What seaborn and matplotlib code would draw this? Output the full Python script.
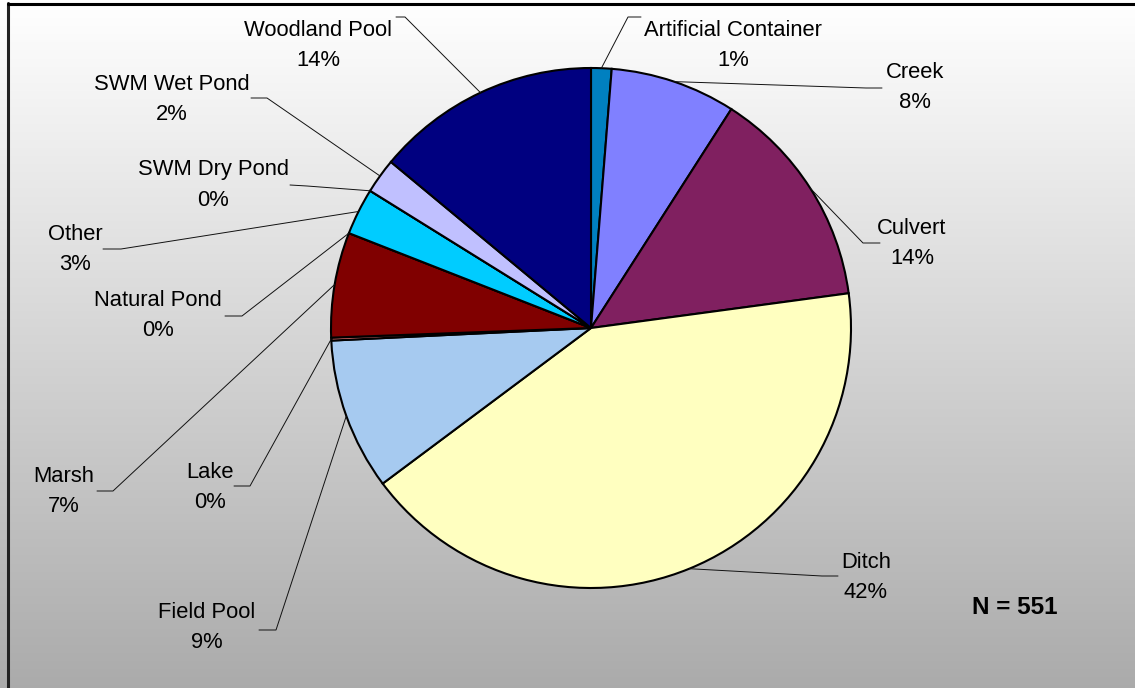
import numpy as np
import matplotlib
matplotlib.use("Agg")
import matplotlib.pyplot as plt
import seaborn as sns

# ---- data ----
categories = ["Artificial Container", "Creek", "Culvert", "Ditch", "Field Pool", "Lake",
              "Marsh", "Natural Pond", "Other", "SWM Dry Pond", "SWM Wet Pond", "Woodland Pool"]
counts = [7, 43, 76, 231, 52, 1, 36, 0, 16, 0, 12, 77]
colors = ["#0080C0", "#8080FF", "#802060", "#FFFFC0", "#A6CAF0", "#FF8080",
          "#800000", "#008080", "#00CCFF", "#CCFFCC", "#C0C0FF", "#000080"]
n_label = "N = 551"

# ---- layout (pixel coordinates, y downward) ----
W, H = 1135, 688
pie_center = (591, 328)
pie_radius = 260
# name text center, elbow point, horizontal tick end
label_layout = {
    "Artificial Container": ((733, 29), (628, 17), (641, 17)),
    "Creek": ((915, 71), (866, 88), (882, 88)),
    "Culvert": ((912, 226), (863, 243), (880, 243)),
    "Ditch": ((866, 561), (822, 576), (838, 576)),
    "Field Pool": ((207, 611), (276, 630), (259, 630)),
    "Lake": ((210, 470), (250, 486), (234, 486)),
    "Marsh": ((64, 474), (113, 491), (97, 491)),
    "Natural Pond": ((158, 298), (242, 316), (225, 316)),
    "Other": ((75, 232), (121, 249), (103, 249)),
    "SWM Dry Pond": ((213, 168), (307, 186), (290, 185)),
    "SWM Wet Pond": ((172, 82), (267, 98), (251, 98)),
    "Woodland Pool": ((318, 28), (405, 17), (396, 17)),
}

sns.set_theme(style="white")
plt.rcParams["font.family"] = ["Liberation Sans", "DejaVu Sans"]

fig = plt.figure(figsize=(W / 100, H / 100), dpi=100)

# gradient background
bg = fig.add_axes([0, 0, 1, 1])
grad = np.linspace(1.0, 0.67, 256).reshape(-1, 1)
bg.imshow(np.dstack([grad, grad, grad]), aspect="auto", extent=[0, 1, 0, 1], origin="upper")
bg.set_axis_off()

ax = fig.add_axes([0, 0, 1, 1])
ax.set_xlim(0, W)
ax.set_ylim(0, H)
ax.set_aspect("equal")
ax.set_axis_off()
ax.patch.set_alpha(0)

def Y(y):
    return H - y

cx, cy = pie_center[0], Y(pie_center[1])
wedges, _ = ax.pie(counts, colors=colors, startangle=90, counterclock=False,
                   center=(cx, cy), radius=pie_radius, normalize=True,
                   wedgeprops=dict(edgecolor="black", linewidth=1.5))
ax.set_xlim(0, W)
ax.set_ylim(0, H)

total = sum(counts)
fs = 15.8
for w, cat, c in zip(wedges, categories, counts):
    mid = np.deg2rad((w.theta1 + w.theta2) / 2)
    px = cx + pie_radius * np.cos(mid)
    py = cy + pie_radius * np.sin(mid)
    (tx, ty), (ex, ey), (hx, hy) = label_layout[cat]
    ax.plot([px, ex, hx], [py, Y(ey), Y(hy)], color="#111111", lw=0.7, zorder=1)
    pct = round(c / total * 100)
    ax.text(tx, Y(ty + 2), cat, ha="center", va="center", fontsize=fs, color="black")
    ax.text(tx, Y(ty + 32), f"{pct}%", ha="center", va="center", fontsize=fs, color="black")

ax.text(1015, Y(608), n_label, ha="center", va="center", fontsize=17.5, fontweight="bold", color="black")

# border (left and top)
ax.plot([8, 8], [0, Y(3)], color="#222222", lw=2.2, clip_on=False)
ax.plot([8, W], [Y(4), Y(4)], color="black", lw=2.2, clip_on=False)

fig.savefig("out.png", dpi=100)
